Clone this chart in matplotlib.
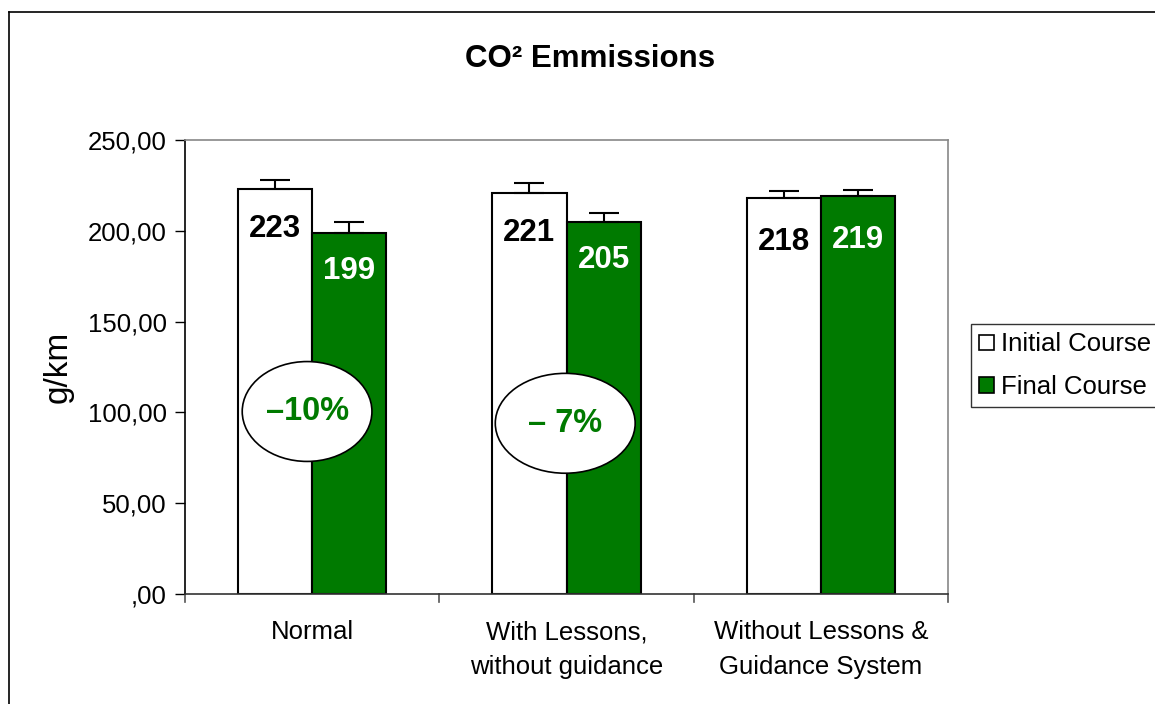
import matplotlib
matplotlib.use("Agg")
import matplotlib.pyplot as plt
from matplotlib.patches import Ellipse, Patch
from matplotlib.lines import Line2D

plt.rcParams['font.family'] = ['Liberation Sans', 'DejaVu Sans']

categories = ["Normal", "With Lessons,\nwithout guidance", "Without Lessons &\nGuidance System"]
initial = [223, 221, 218]
final = [199, 205, 219]
initial_err = [5, 5.5, 4]
final_err = [6, 5, 3.5]
initial_labels = ["223", "221", "218"]
final_labels = ["199", "205", "219"]
yticks = [0, 50, 100, 150, 200, 250]
ytick_labels = [",00", "50,00", "100,00", "150,00", "200,00", "250,00"]
change_labels = ["\u201310%", "\u2013 7%"]
green = "#007a00"

W, H = 1155, 704
fig = plt.figure(figsize=(W / 100, H / 100), dpi=100)
fig.patch.set_facecolor("white")

# outer frame
fig.add_artist(Line2D([9 / W, 9 / W], [0, 1 - 12 / H], transform=fig.transFigure, color="black", lw=1.2))
fig.add_artist(Line2D([9 / W, 1], [1 - 12 / H, 1 - 12 / H], transform=fig.transFigure, color="black", lw=1.2))

ax = fig.add_axes([185 / W, 1 - 594 / H, (948 - 185) / W, (594 - 140) / H])
x = list(range(len(categories)))
bw = 0.292
xi = [v - bw / 2 for v in x]
xf = [v + bw / 2 for v in x]
ax.bar(xi, initial, bw, color="white", edgecolor="black", linewidth=1.5, zorder=2)
ax.bar(xf, final, bw, color=green, edgecolor="black", linewidth=1.5, zorder=2)
ax.errorbar(xi, initial, yerr=[[0] * 3, initial_err], fmt="none", ecolor="black", elinewidth=1.5, capsize=11, capthick=1.5, zorder=3)
ax.errorbar(xf, final, yerr=[[0] * 3, final_err], fmt="none", ecolor="black", elinewidth=1.5, capsize=11, capthick=1.5, zorder=3)

for i, (xx, v, lab) in enumerate(zip(xi, initial, initial_labels)):
    off = 24 if i == 2 else 22
    ax.text(xx, v - off, lab, ha="center", va="center", fontsize=22.5, fontweight="bold", color="black", zorder=4)
for i, (xx, v, lab) in enumerate(zip(xf, final, final_labels)):
    off = 24 if i == 2 else 21
    ax.text(xx, v - off, lab, ha="center", va="center", fontsize=22.5, fontweight="bold", color="white", zorder=4)

# ellipses with percentage change
ell_pos = [(-0.02, 100.5), (0.995, 94)]
ell_w = [0.51, 0.55]
for (ex, ey), w, lab in zip(ell_pos, ell_w, change_labels):
    ax.add_patch(Ellipse((ex, ey), w, 55, facecolor="white", edgecolor="black", linewidth=1.2, zorder=5))
    ax.text(ex, ey, lab, ha="center", va="center", fontsize=23.5, fontweight="bold", color=green, zorder=6)

ax.set_xlim(-0.5, 2.5)
ax.set_ylim(0, 250)
ax.set_yticks(yticks)
ax.set_yticklabels(ytick_labels, fontsize=18.5)
ax.set_xticks(x)
ax.set_xticklabels(categories, fontsize=18.5, linespacing=1.55)
ax.tick_params(axis="x", length=0, pad=19)
ax.tick_params(axis="y", length=7, width=1, pad=6)
for b in [0.5, 1.5, 2.5, -0.5]:
    ax.add_artist(Line2D([b, b], [0, -0.018], transform=ax.get_xaxis_transform(), color="#555555", lw=1.2, clip_on=False))
ax.spines["left"].set_color("black")
ax.spines["bottom"].set_color("#333333")
ax.spines["top"].set_color("#888888")
ax.spines["right"].set_color("#888888")
for s in ax.spines.values():
    s.set_linewidth(1.2)

ax.set_ylabel("g/km", fontsize=24, labelpad=10)
fig.text(590 / W, 1 - 59 / H, "CO² Emmissions", ha="center", va="center", fontsize=22.5, fontweight="bold")

handles = [Patch(facecolor="white", edgecolor="black", linewidth=1.2),
           Patch(facecolor=green, edgecolor="black", linewidth=1.2)]
leg = fig.legend(handles, ["Initial Course", "Final Course"], loc="upper left",
                 bbox_to_anchor=(971 / W, 1 - 324 / H), bbox_transform=fig.transFigure,
                 fontsize=18.5, frameon=True, fancybox=False, edgecolor="black",
                 handlelength=0.55, handleheight=0.55, handletextpad=0.3,
                 borderpad=0.33, labelspacing=0.72, borderaxespad=0)
leg.get_frame().set_linewidth(1.0)

fig.savefig("out.png", dpi=100)
